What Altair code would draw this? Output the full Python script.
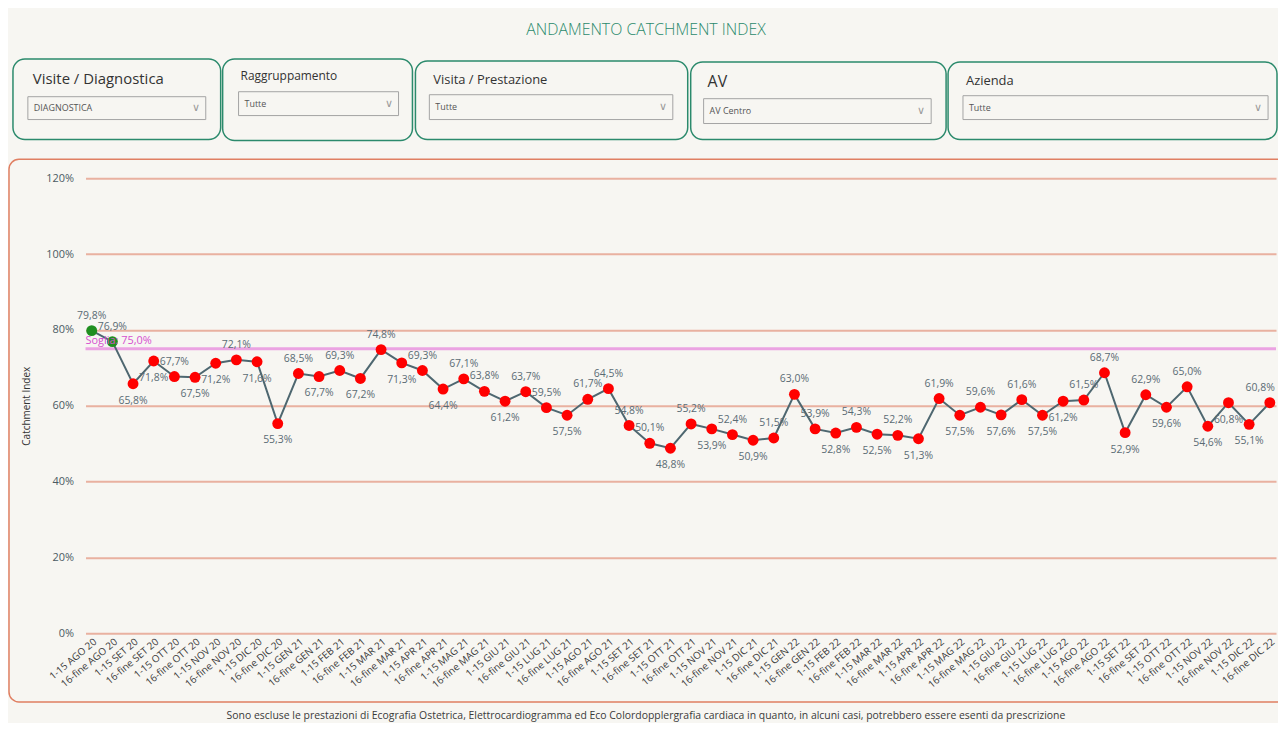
import altair as alt
import pandas as pd

FONT = "Open Sans"

# ---- data -------------------------------------------------------------
mesi = ["AGO 20", "SET 20", "OTT 20", "NOV 20", "DIC 20",
        "GEN 21", "FEB 21", "MAR 21", "APR 21", "MAG 21", "GIU 21",
        "LUG 21", "AGO 21", "SET 21", "OTT 21", "NOV 21", "DIC 21",
        "GEN 22", "FEB 22", "MAR 22", "APR 22", "MAG 22", "GIU 22",
        "LUG 22", "AGO 22", "SET 22", "OTT 22", "NOV 22", "DIC 22"]
quindicine = ["1-15", "16-fine"]
periodi = [f"{q} {m}" for m in mesi for q in quindicine]

catchment = [79.8, 76.9, 65.8, 71.8, 67.7, 67.5, 71.2, 72.1, 71.6, 55.3,
             68.5, 67.7, 69.3, 67.2, 74.8, 71.3, 69.3, 64.4, 67.1, 63.8,
             61.2, 63.7, 59.5, 57.5, 61.7, 64.5, 54.8, 50.1, 48.8, 55.2,
             53.9, 52.4, 50.9, 51.5, 63.0, 53.9, 52.8, 54.3, 52.5, 52.2,
             51.3, 61.9, 57.5, 59.6, 57.6, 61.6, 57.5, 61.2, 61.5, 68.7,
             52.9, 62.9, 59.6, 65.0, 54.6, 60.8, 55.1, 60.8]

# where each data label sits relative to its point
lato_etichetta = ["sopra", "sopra", "sotto", "sotto", "sopra", "sotto", "sotto", "sopra", "sotto", "sotto",
                  "sopra", "sotto", "sopra", "sotto", "sopra", "sotto", "sopra", "sotto", "sopra", "sopra",
                  "sotto", "sopra", "sopra", "sotto", "sopra", "sopra", "sopra", "sopra", "sotto", "sopra",
                  "sotto", "sopra", "sotto", "sopra", "sopra", "sopra", "sotto", "sopra", "sotto", "sopra",
                  "sotto", "sopra", "sotto", "sopra", "sotto", "sopra", "sotto", "sotto", "sopra", "sopra",
                  "sotto", "sopra", "sotto", "sopra", "sotto", "sotto", "sotto", "bordo"]

soglia = [75.0]
y_ticks = [0, 20, 40, 60, 80, 100, 120]

titolo = "ANDAMENTO CATCHMENT INDEX"
nota = ("Sono escluse le prestazioni di Ecografia Ostetrica, Elettrocardiogramma ed Eco "
        "Colordopplergrafia cardiaca in quanto, in alcuni casi, potrebbero essere esenti da prescrizione")

filtri_titoli = ["Visite / Diagnostica", "Raggruppamento", "Visita / Prestazione", "AV", "Azienda"]
filtri_valori = ["DIAGNOSTICA", "Tutte", "Tutte", "AV Centro", "Tutte"]

df = pd.DataFrame({"periodo": periodi, "valore": catchment, "lato": lato_etichetta})

# ---- colours ---------------------------------------------------------
BG = "#f7f6f2"
TEAL = "#2b8a6c"
SALMON = "#e07f62"
GRID = "#e9b1a0"

W, H = 1198, 458
OX, OY = 86, 177  # page position of plot origin


def px(x):
    return x - OX


def py(y):
    return y - OY


one = pd.DataFrame({"k": [0]})
layers = []

# container for the chart
layers.append(
    alt.Chart(one).mark_rect(fillOpacity=0, stroke=SALMON, strokeWidth=1.5, cornerRadius=10).encode(
        x=alt.value(px(9)), x2=alt.value(px(1300)), y=alt.value(py(158)), y2=alt.value(py(704)))
)

# filter boxes (slicers)
box_geo = [(13, 222, 57, 138), (224, 415, 57, 139), (418, 692, 59, 138), (695, 952, 60, 138), (954, 1285, 60, 138)]
drop_geo = [(28, 207, 95, 118), (240, 401, 90, 114), (432, 677, 93, 118), (708, 937, 97, 122), (969, 1276, 94, 118)]
title_geo = [(33, 77, 15), (242, 74, 12), (436, 78, 13), (712, 80, 16), (972, 79, 13)]
for i in range(5):
    bx0, bx1, by0, by1 = box_geo[i]
    layers.append(
        alt.Chart(one).mark_rect(fillOpacity=0, stroke=TEAL, strokeWidth=1.5, cornerRadius=12).encode(
            x=alt.value(px(bx0)), x2=alt.value(px(bx1)), y=alt.value(py(by0)), y2=alt.value(py(by1)))
    )
    dx0, dx1, dy0, dy1 = drop_geo[i]
    layers.append(
        alt.Chart(one).mark_rect(fillOpacity=0, stroke="#a3a3a3", strokeWidth=1).encode(
            x=alt.value(px(dx0)), x2=alt.value(px(dx1)), y=alt.value(py(dy0)), y2=alt.value(py(dy1)))
    )
    tx, ty, ts = title_geo[i]
    layers.append(
        alt.Chart(one).mark_text(align="left", baseline="middle", font=FONT, fontSize=ts, color="#333333").encode(
            x=alt.value(px(tx)), y=alt.value(py(ty)), text=alt.value(filtri_titoli[i]))
    )
    layers.append(
        alt.Chart(one).mark_text(align="left", baseline="middle", font=FONT, fontSize=9, color="#555555").encode(
            x=alt.value(px(dx0 + 6)), y=alt.value(py((dy0 + dy1) / 2)), text=alt.value(filtri_valori[i]))
    )
    layers.append(
        alt.Chart(one).mark_text(align="center", baseline="middle", font="DejaVu Sans", fontSize=11,
                                 fontWeight=200, color="#9a9a9a").encode(
            x=alt.value(px(dx1 - 10)), y=alt.value(py((dy0 + dy1) / 2)), text=alt.value("∨"))
    )

# page title and footnote
layers.append(
    alt.Chart(one).mark_text(align="center", baseline="middle", font=FONT, fontSize=16, fontWeight=300,
                             color=TEAL).encode(
        x=alt.value(px(650)), y=alt.value(py(28)), text=alt.value(titolo))
)
layers.append(
    alt.Chart(one).mark_text(align="center", baseline="middle", font=FONT, fontSize=10.5,
                             color="#3a3a3a").encode(
        x=alt.value(px(650)), y=alt.value(py(718)), text=alt.value(nota))
)

# ---- main series --------------------------------------------------------
x_enc = alt.X("periodo:N", sort=periodi, scale=alt.Scale(type="point", padding=0.3),
              axis=alt.Axis(title=None, labelAngle=-40, labelFont=FONT, labelFontSize=10,
                            labelColor="#3b3b3b", domain=False, ticks=False, labelPadding=3,
                            labelOverlap=False, grid=False))
y_enc = alt.Y("valore:Q", scale=alt.Scale(domain=[0, 120], nice=False, zero=True),
              axis=alt.Axis(title="Catchment Index", values=y_ticks, labelExpr="datum.value + '%'",
                            grid=True, gridColor=GRID, gridWidth=2, domain=False, ticks=False,
                            labelPadding=12, labelFont=FONT, labelFontSize=11, labelColor="#4a5a63",
                            titleFont=FONT, titleFontSize=10, titleFontWeight="normal",
                            titleColor="#333333", titlePadding=14))

base = alt.Chart(df).encode(x=x_enc, y=y_enc)

soglia_df = pd.DataFrame({"soglia": soglia})
rule = alt.Chart(soglia_df).mark_rule(color="#eba3e2", strokeWidth=3).encode(y="soglia:Q")
rule_text = alt.Chart(soglia_df).transform_calculate(
    t="'Soglia: ' + replace(format(datum.soglia, '.1f'), '.', ',') + '%'"
).mark_text(align="left", baseline="bottom", dy=-3, font=FONT, fontSize=11, color="#d64fcf").encode(
    x=alt.value(0), y="soglia:Q", text="t:N")

line = base.mark_line(color="#4e6770", strokeWidth=2)
points = base.transform_calculate(
    stato=f"datum.valore >= {soglia[0]} ? 'sopra soglia' : 'sotto soglia'"
).mark_circle(size=120, opacity=1).encode(
    color=alt.Color("stato:N", scale=alt.Scale(domain=["sopra soglia", "sotto soglia"],
                                               range=["#1f8f1f", "#ff0000"]), legend=None))

fmt = "replace(format(datum.valore, '.1f'), '.', ',') + '%'"
lab_style = dict(font=FONT, fontSize=10.5, color="#5a6b74")
labels_up = base.transform_filter("datum.lato == 'sopra'").transform_calculate(t=fmt).mark_text(
    baseline="bottom", dy=-10, **lab_style).encode(text="t:N")
labels_down = base.transform_filter("datum.lato == 'sotto'").transform_calculate(t=fmt).mark_text(
    baseline="top", dy=12, **lab_style).encode(text="t:N")
labels_edge = base.transform_filter("datum.lato == 'bordo'").transform_calculate(t=fmt).mark_text(
    baseline="bottom", align="right", dx=5, dy=-10, **lab_style).encode(text="t:N")

layers += [rule, line, points, rule_text, labels_up, labels_down, labels_edge]

chart = alt.layer(*layers).properties(
    width=W, height=H,
    autosize=alt.AutoSizeParams(type="none"),
    padding={"left": OX - 8, "top": OY - 8, "right": 2, "bottom": 88},
    background=BG,
).configure_view(stroke=None)

chart.save("out.html", embed_options={"renderer": "svg", "actions": False})
